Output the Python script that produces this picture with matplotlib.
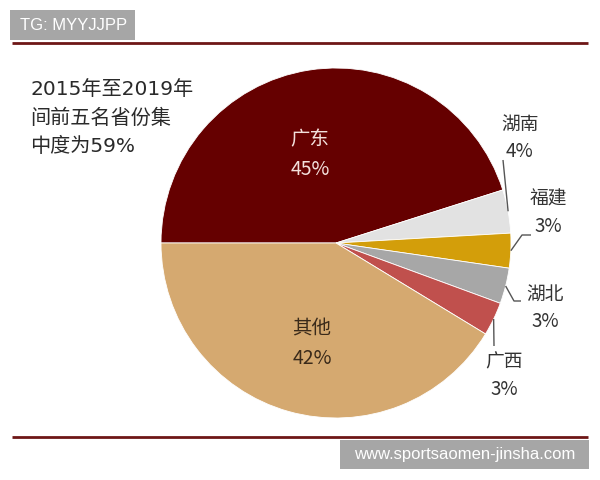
import numpy as np
import matplotlib
matplotlib.use("Agg")
import matplotlib.pyplot as plt
from matplotlib.patches import Rectangle

plt.rcParams['font.family'] = ['Noto Sans CJK SC', 'DejaVu Sans']

# ---- data ----
provinces = ['广东', '湖南', '福建', '湖北', '广西', '其他']
shares = [45.1, 4.0, 3.2, 3.3, 3.1, 41.3]
pct_labels = ['45%', '4%', '3%', '3%', '3%', '42%']
colors = ['#650000', '#E2E2E2', '#D39E0A', '#A7A7A7', '#C0504D', '#D5A970']
note = '2015年至2019年\n间前五名省份集\n中度为59%'
header = 'TG: MYYJJPP'
footer = 'www.sportsaomen-jinsha.com'

W, H = 600, 480
fig = plt.figure(figsize=(6, 4.8), dpi=100)
ax = fig.add_axes([0, 0, 1, 1])

def Y(ypx):
    return H - ypx

cx, cy, R = 336, Y(243), 175
wedges, _ = ax.pie(shares, colors=colors, startangle=180, counterclock=False,
                   center=(cx, cy), radius=R,
                   wedgeprops=dict(edgecolor='white', linewidth=0.6))
ax.set_xlim(0, W)
ax.set_ylim(0, H)
ax.set_aspect('equal')
ax.axis('off')

# inner labels
ax.text(310, Y(155), f'{provinces[0]}\n{pct_labels[0]}', ha='center', va='center',
        fontsize=14, color='#F3E0DC', linespacing=1.55)
ax.text(312, Y(344), f'{provinces[5]}\n{pct_labels[5]}', ha='center', va='center',
        fontsize=14, color='#3A2A1A', linespacing=1.5)

# outer labels with leaders
def anchor(w):
    mid = np.deg2rad((w.theta1 + w.theta2) / 2)
    return cx + R * np.cos(mid), cy + R * np.sin(mid)

lab_pos = {1: (520, 138), 2: (548, 213), 3: (545, 308), 4: (504, 376)}
leaders = {1: [(503, 160)],
           2: [(522, 235), (531, 235)],
           3: [(514, 301), (521, 301)],
           4: [(494, 346)]}
for i in range(1, 5):
    ax.text(lab_pos[i][0], Y(lab_pos[i][1]), f'{provinces[i]}\n{pct_labels[i]}',
            ha='center', va='center', fontsize=13.5, color='#333333', linespacing=1.4)
    ax0, ay0 = anchor(wedges[i])
    xs = [ax0] + [p[0] for p in leaders[i]]
    ys = [ay0] + [Y(p[1]) for p in leaders[i]]
    ax.plot(xs, ys, color='#555555', lw=1.0, solid_capstyle='butt')

# note
ax.text(30, Y(118), note, ha='left', va='center', fontsize=14.5,
        color='#2A2A2A', linespacing=1.6,
        family=['DejaVu Sans', 'Noto Sans CJK SC'])

# header box and rule
ax.add_patch(Rectangle((10, Y(40)), 125, 30, facecolor='#A6A6A6', edgecolor='none'))
ax.text(20, Y(25), header, ha='left', va='center', fontsize=12, color='white',
        family='Liberation Sans')
ax.plot([12, 588], [Y(42.5), Y(42.5)], color='#6E1616', lw=2.0, solid_capstyle='butt')

# footer rule and box
ax.plot([12, 588], [Y(437), Y(437)], color='#6E1616', lw=2.0, solid_capstyle='butt')
ax.add_patch(Rectangle((340, Y(469)), 249, 29, facecolor='#A6A6A6', edgecolor='none'))
ax.text(464.5, Y(454.5), footer, ha='center', va='center', fontsize=12, color='white',
        family='Liberation Sans')

fig.savefig('out.png', dpi=100)
